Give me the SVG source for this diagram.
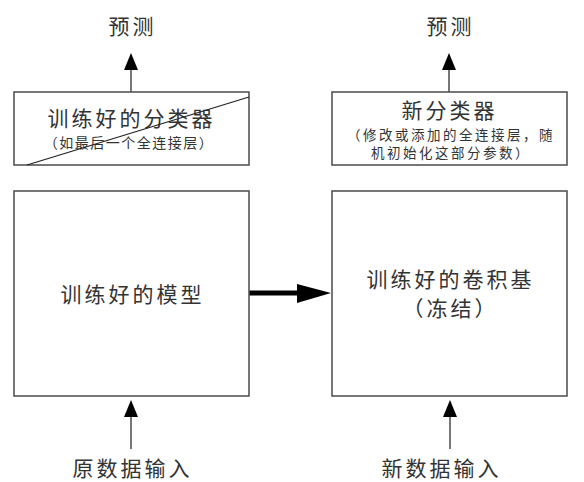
<svg xmlns="http://www.w3.org/2000/svg" width="584" height="482" viewBox="0 0 584 482">
<defs>
<style>
.box{fill:#fff;stroke:#555;stroke-width:1.6}
.t{font-family:"Noto Sans CJK SC","Noto Sans",sans-serif;fill:#333;text-anchor:middle}
.big{font-size:21px;letter-spacing:3px}
.sm{font-size:14px;letter-spacing:1.5px}
.sm2{font-size:13.5px;letter-spacing:2.5px}
.ln{stroke:#555;stroke-width:1.6;fill:none}
</style>
</defs>
<rect width="584" height="482" fill="#fff"/>
<g id="connectors">
<path class="ln" d="M131,92 V68"/>
<path d="M124,70 L131,53 L138,70 Z" fill="#000"/>
<path class="ln" d="M449,92 V68"/>
<path d="M442,70 L449,53 L456,70 Z" fill="#000"/>
<path class="ln" d="M131,449 V414"/>
<path d="M124,417 L131,400 L138,417 Z" fill="#000"/>
<path class="ln" d="M450,449 V414"/>
<path d="M443,417 L450,400 L457,417 Z" fill="#000"/>
<path d="M247,293 H299" stroke="#000" stroke-width="5" fill="none"/>
<path d="M297,284 L331,293 L297,303 Z" fill="#000"/>
</g>
<g id="pred-left"><text class="t big" x="132.5" y="34">预测</text></g>
<g id="pred-right"><text class="t big" x="450.5" y="34">预测</text></g>
<g id="old-classifier">
<rect class="box" x="14" y="92" width="235" height="73"/>
<text class="t big" x="131.5" y="126">训练好的分类器</text>
<text class="t sm" x="129" y="148">（如最后一个全连接层）</text>
<path d="M27,165 L249,97" stroke="#222" stroke-width="1.3"/>
</g>
<g id="new-classifier">
<rect class="box" x="332" y="92" width="235" height="73"/>
<text class="t big" x="449.5" y="118">新分类器</text>
<text class="t sm2" x="451" y="140">（修改或添加的全连接层，随</text>
<text class="t sm2" x="451" y="158">机初始化这部分参数）</text>
</g>
<g id="trained-model">
<rect class="box" x="14" y="191" width="235" height="205"/>
<text class="t big" x="132.5" y="302">训练好的模型</text>
</g>
<g id="conv-base">
<rect class="box" x="332" y="191" width="235" height="205"/>
<text class="t big" x="450.5" y="287">训练好的卷积基</text>
<text class="t big" x="450.5" y="316">（冻结）</text>
</g>
<g id="input-old"><text class="t big" x="132.5" y="476">原数据输入</text></g>
<g id="input-new"><text class="t big" x="441.5" y="476">新数据输入</text></g>
</svg>
